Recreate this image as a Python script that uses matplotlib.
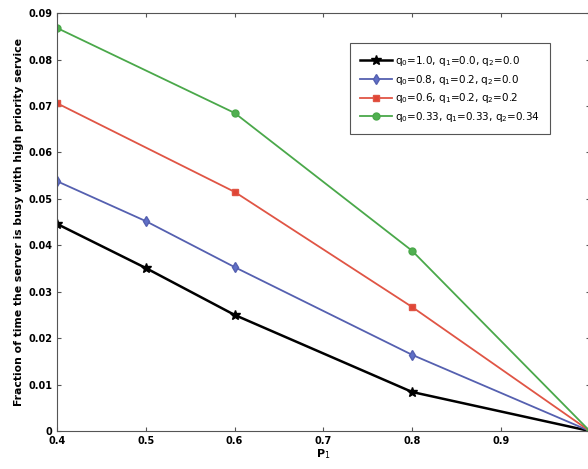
import matplotlib
matplotlib.use("Agg")
import matplotlib.pyplot as plt

p1 = [0.4, 0.5, 0.6, 0.8, 1.0]
p1_short = [0.4, 0.6, 0.8, 1.0]
black_vals = [0.0446, 0.0351, 0.0250, 0.0084, 0.0]
blue_vals = [0.0538, 0.0452, 0.0353, 0.0164, 0.0]
red_vals = [0.0706, 0.0515, 0.0267, 0.0]
green_vals = [0.0868, 0.0685, 0.0388, 0.0]
labels = ["q$_0$=1.0, q$_1$=0.0, q$_2$=0.0",
          "q$_0$=0.8, q$_1$=0.2, q$_2$=0.0",
          "q$_0$=0.6, q$_1$=0.2, q$_2$=0.2",
          "q$_0$=0.33, q$_1$=0.33, q$_2$=0.34"]
xticks = [0.4, 0.5, 0.6, 0.7, 0.8, 0.9, 1.0]
xtick_labels = ["0.4", "0.5", "0.6", "0.7", "0.8", "0.9", ""]
yticks = [0, 0.01, 0.02, 0.03, 0.04, 0.05, 0.06, 0.07, 0.08, 0.09]
ytick_labels = ["0", "0.01", "0.02", "0.03", "0.04", "0.05", "0.06", "0.07", "0.08", "0.09"]

fig = plt.figure(figsize=(5.88, 4.69), dpi=100)
ax = fig.add_axes([0.097, 0.081, 0.906, 0.891])

ax.plot(p1, black_vals, color="black", lw=1.8, marker="*", ms=7, label=labels[0])
ax.plot(p1, blue_vals, color="#5560b0", lw=1.3, marker="d", ms=5, mfc="#6070c8", label=labels[1])
ax.plot(p1_short, red_vals, color="#e05545", lw=1.3, marker="s", ms=5, mfc="#e04535", label=labels[2])
ax.plot(p1_short, green_vals, color="#4aa84a", lw=1.3, marker="o", ms=5, mfc="#50b050", label=labels[3])

ax.set_xlim(0.4, 1.0)
ax.set_ylim(0, 0.09)
ax.set_xticks(xticks)
ax.set_xticklabels(xtick_labels, fontsize=7, fontweight="bold")
ax.set_yticks(yticks)
ax.set_yticklabels(ytick_labels, fontsize=7, fontweight="bold")
ax.tick_params(direction="in", top=True, right=True, length=3, color="#555555")
for s in ax.spines.values():
    s.set_color("#555555")
ax.set_xlabel("P$_1$", fontsize=8, fontweight="bold", labelpad=1)
ax.set_ylabel("Fraction of time the server is busy with high priority service",
              fontsize=7.8, fontweight="bold", labelpad=3)

leg = ax.legend(loc="upper left", bbox_to_anchor=(0.54, 0.94), fontsize=7.5,
                fancybox=False, edgecolor="#555555", framealpha=1,
                handlelength=3, borderpad=1.0, labelspacing=0.45, handletextpad=0.3)
leg.get_frame().set_linewidth(0.8)

fig.savefig("out.png", dpi=100)
